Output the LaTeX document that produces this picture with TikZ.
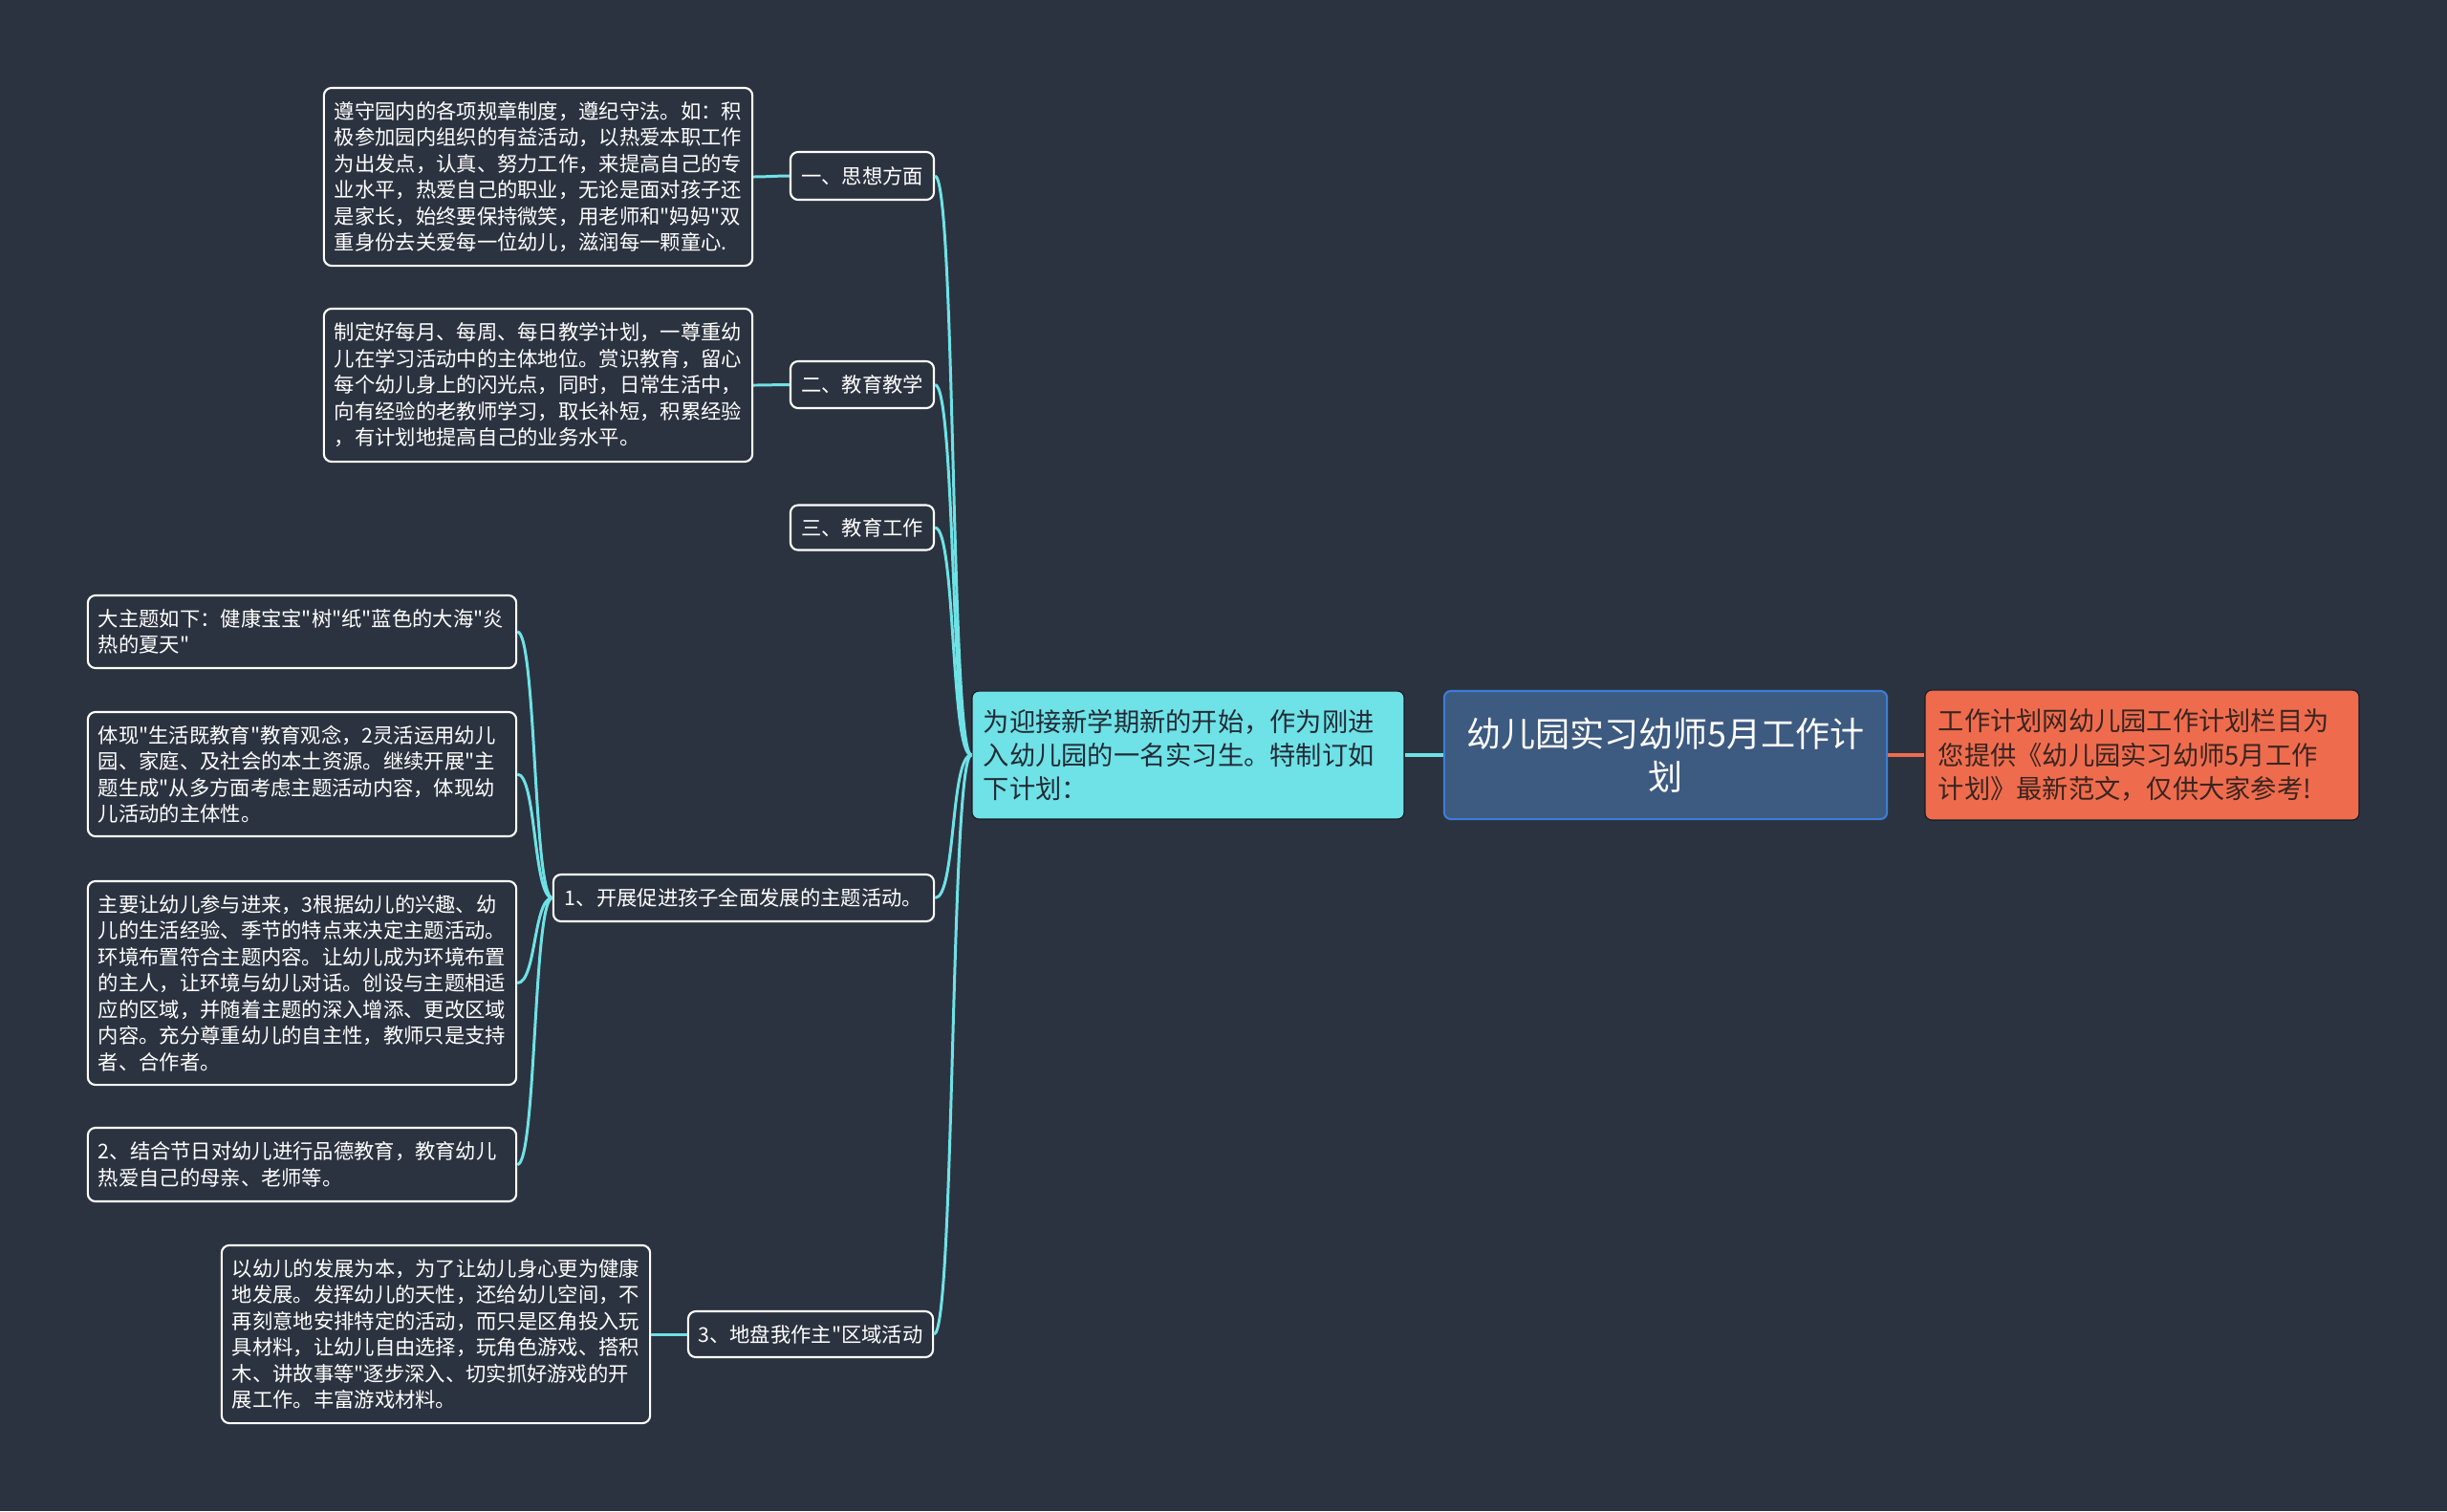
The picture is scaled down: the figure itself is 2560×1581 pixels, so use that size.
\documentclass[tikz,border=0pt]{standalone}
\usepackage{fontspec}
\setmainfont{Noto Sans CJK SC}[Ligatures=TeXOff]
\definecolor{bg}{HTML}{2C3340}
\definecolor{cyanc}{HTML}{6EE2E6}
\definecolor{rootfill}{HTML}{3D5A80}
\definecolor{rootborder}{HTML}{3B7DD8}
\definecolor{orangec}{HTML}{EE6C4D}
\definecolor{darktext}{HTML}{222B36}
\definecolor{orangetext}{HTML}{3A2420}
\definecolor{edgedark}{HTML}{1B2029}
\newcommand\leaffs{\fontsize{6.06pt}{7.82pt}\selectfont}
\newcommand\midfs{\fontsize{7.75pt}{10pt}\selectfont}
\newcommand\rootfs{\fontsize{10.24pt}{12.8pt}\selectfont}
\tikzset{
  leafbox/.style={draw=white, line width=0.6pt, rounded corners=0.08cm, fill=bg,
    text=white, font=\leaffs, align=left, text width=4.26cm, inner xsep=0.11cm,
    inner ysep=0pt, minimum width=4.48cm},
  branchbox/.style={draw=white, line width=0.6pt, rounded corners=0.08cm, fill=bg,
    text=white, font=\leaffs, align=center, inner sep=0pt},
  rootbox/.style={draw=rootborder, line width=0.6pt, rounded corners=0.07cm, fill=rootfill,
    text=white, font=\rootfs, align=center, text width=4.40cm, inner xsep=0.115cm,
    minimum height=1.34cm},
  introbox/.style={draw=edgedark, line width=0.4pt, rounded corners=0.07cm, fill=cyanc,
    text=darktext, font=\midfs, align=left, text width=4.28cm, inner xsep=0.12cm,
    minimum height=1.34cm},
  notebox/.style={draw=edgedark, line width=0.4pt, rounded corners=0.07cm, fill=orangec,
    text=orangetext, font=\midfs, align=left, text width=4.26cm, inner xsep=0.14cm,
    minimum height=1.36cm},
  link/.style={draw=cyanc, line width=0.85pt},
  rootlink/.style={draw=cyanc, line width=1.3pt},
  notelink/.style={draw=orangec, line width=1.3pt},
}
\begin{document}
\begin{tikzpicture}[x=0.01cm,y=-0.01cm]
\fill[bg] (0,0) rectangle (2560,1581);
\useasboundingbox (0,0) rectangle (2560,1581);

% centre nodes
\node[rootbox] (root) at (1742.5,790) {幼儿园实习幼师5月工作计\\划};
\node[introbox] (intro) at (1243,790) {为迎接新学期新的开始，作为刚进\\入幼儿园的一名实习生。特制订如\\下计划：};
\node[notebox] (note) at (2241,790) {工作计划网幼儿园工作计划栏目为\\您提供《幼儿园实习幼师5月工作\\计划》最新范文，仅供大家参考!};

% branches
\node[branchbox, minimum width=1.50cm, minimum height=0.50cm] (b1) at (902,184) {一、思想方面};
\node[branchbox, minimum width=1.50cm, minimum height=0.49cm] (b2) at (902,402.5) {二、教育教学};
\node[branchbox, minimum width=1.50cm, minimum height=0.47cm] (b3) at (902,552) {三、教育工作};
\node[branchbox, minimum width=3.98cm, minimum height=0.49cm] (b4) at (778,939.5) {1、开展促进孩子全面发展的主题活动。};
\node[branchbox, minimum width=2.56cm, minimum height=0.48cm] (b5) at (848,1396) {3、地盘我作主"区域活动};

% leaves
\node[leafbox, minimum height=1.86cm] (l1) at (563,185) {遵守园内的各项规章制度，遵纪守法。如：积\\极参加园内组织的有益活动，以热爱本职工作\\为出发点，认真、努力工作，来提高自己的专\\业水平，热爱自己的职业，无论是面对孩子还\\是家长，始终要保持微笑，用老师和"妈妈"双\\重身份去关爱每一位幼儿，滋润每一颗童心.};
\node[leafbox, minimum height=1.60cm] (l2) at (563,403) {制定好每月、每周、每日教学计划，一尊重幼\\儿在学习活动中的主体地位。赏识教育，留心\\每个幼儿身上的闪光点，同时，日常生活中，\\向有经验的老教师学习，取长补短，积累经验\\，有计划地提高自己的业务水平。};
\node[leafbox, minimum height=0.76cm] (la) at (316,661) {大主题如下：健康宝宝"树"纸"蓝色的大海"炎\\热的夏天"};
\node[leafbox, minimum height=1.30cm] (lb) at (316,810) {体现"生活既教育"教育观念，2灵活运用幼儿\\园、家庭、及社会的本土资源。继续开展"主\\题生成"从多方面考虑主题活动内容，体现幼\\儿活动的主体性。};
\node[leafbox, minimum height=2.13cm] (lc) at (316,1028.5) {主要让幼儿参与进来，3根据幼儿的兴趣、幼\\儿的生活经验、季节的特点来决定主题活动。\\环境布置符合主题内容。让幼儿成为环境布置\\的主人，让环境与幼儿对话。创设与主题相适\\应的区域，并随着主题的深入增添、更改区域\\内容。充分尊重幼儿的自主性，教师只是支持\\者、合作者。};
\node[leafbox, minimum height=0.77cm] (ld) at (316,1218.5) {2、结合节日对幼儿进行品德教育，教育幼儿\\热爱自己的母亲、老师等。};
\node[leafbox, minimum height=1.86cm] (le) at (456,1396) {以幼儿的发展为本，为了让幼儿身心更为健康\\地发展。发挥幼儿的天性，还给幼儿空间，不\\再刻意地安排特定的活动，而只是区角投入玩\\具材料，让幼儿自由选择，玩角色游戏、搭积\\木、讲故事等"逐步深入、切实抓好游戏的开\\展工作。丰富游戏材料。};

% connectors
\draw[rootlink] (root.west) -- (intro.east);
\draw[notelink] (root.east) -- (note.west);
\foreach \b in {b1,b2,b3,b4,b5}
  \draw[link] (intro.west) .. controls +(-22,0) and +(22,0) .. (\b.east);
\draw[link] (b1.west) .. controls +(-15,0) and +(15,0) .. (l1.east);
\draw[link] (b2.west) .. controls +(-15,0) and +(15,0) .. (l2.east);
\draw[link] (b5.west) .. controls +(-15,0) and +(15,0) .. (le.east);
\foreach \l in {la,lb,lc,ld}
  \draw[link] (b4.west) .. controls +(-20,0) and +(20,0) .. (\l.east);
\end{tikzpicture}
\end{document}
